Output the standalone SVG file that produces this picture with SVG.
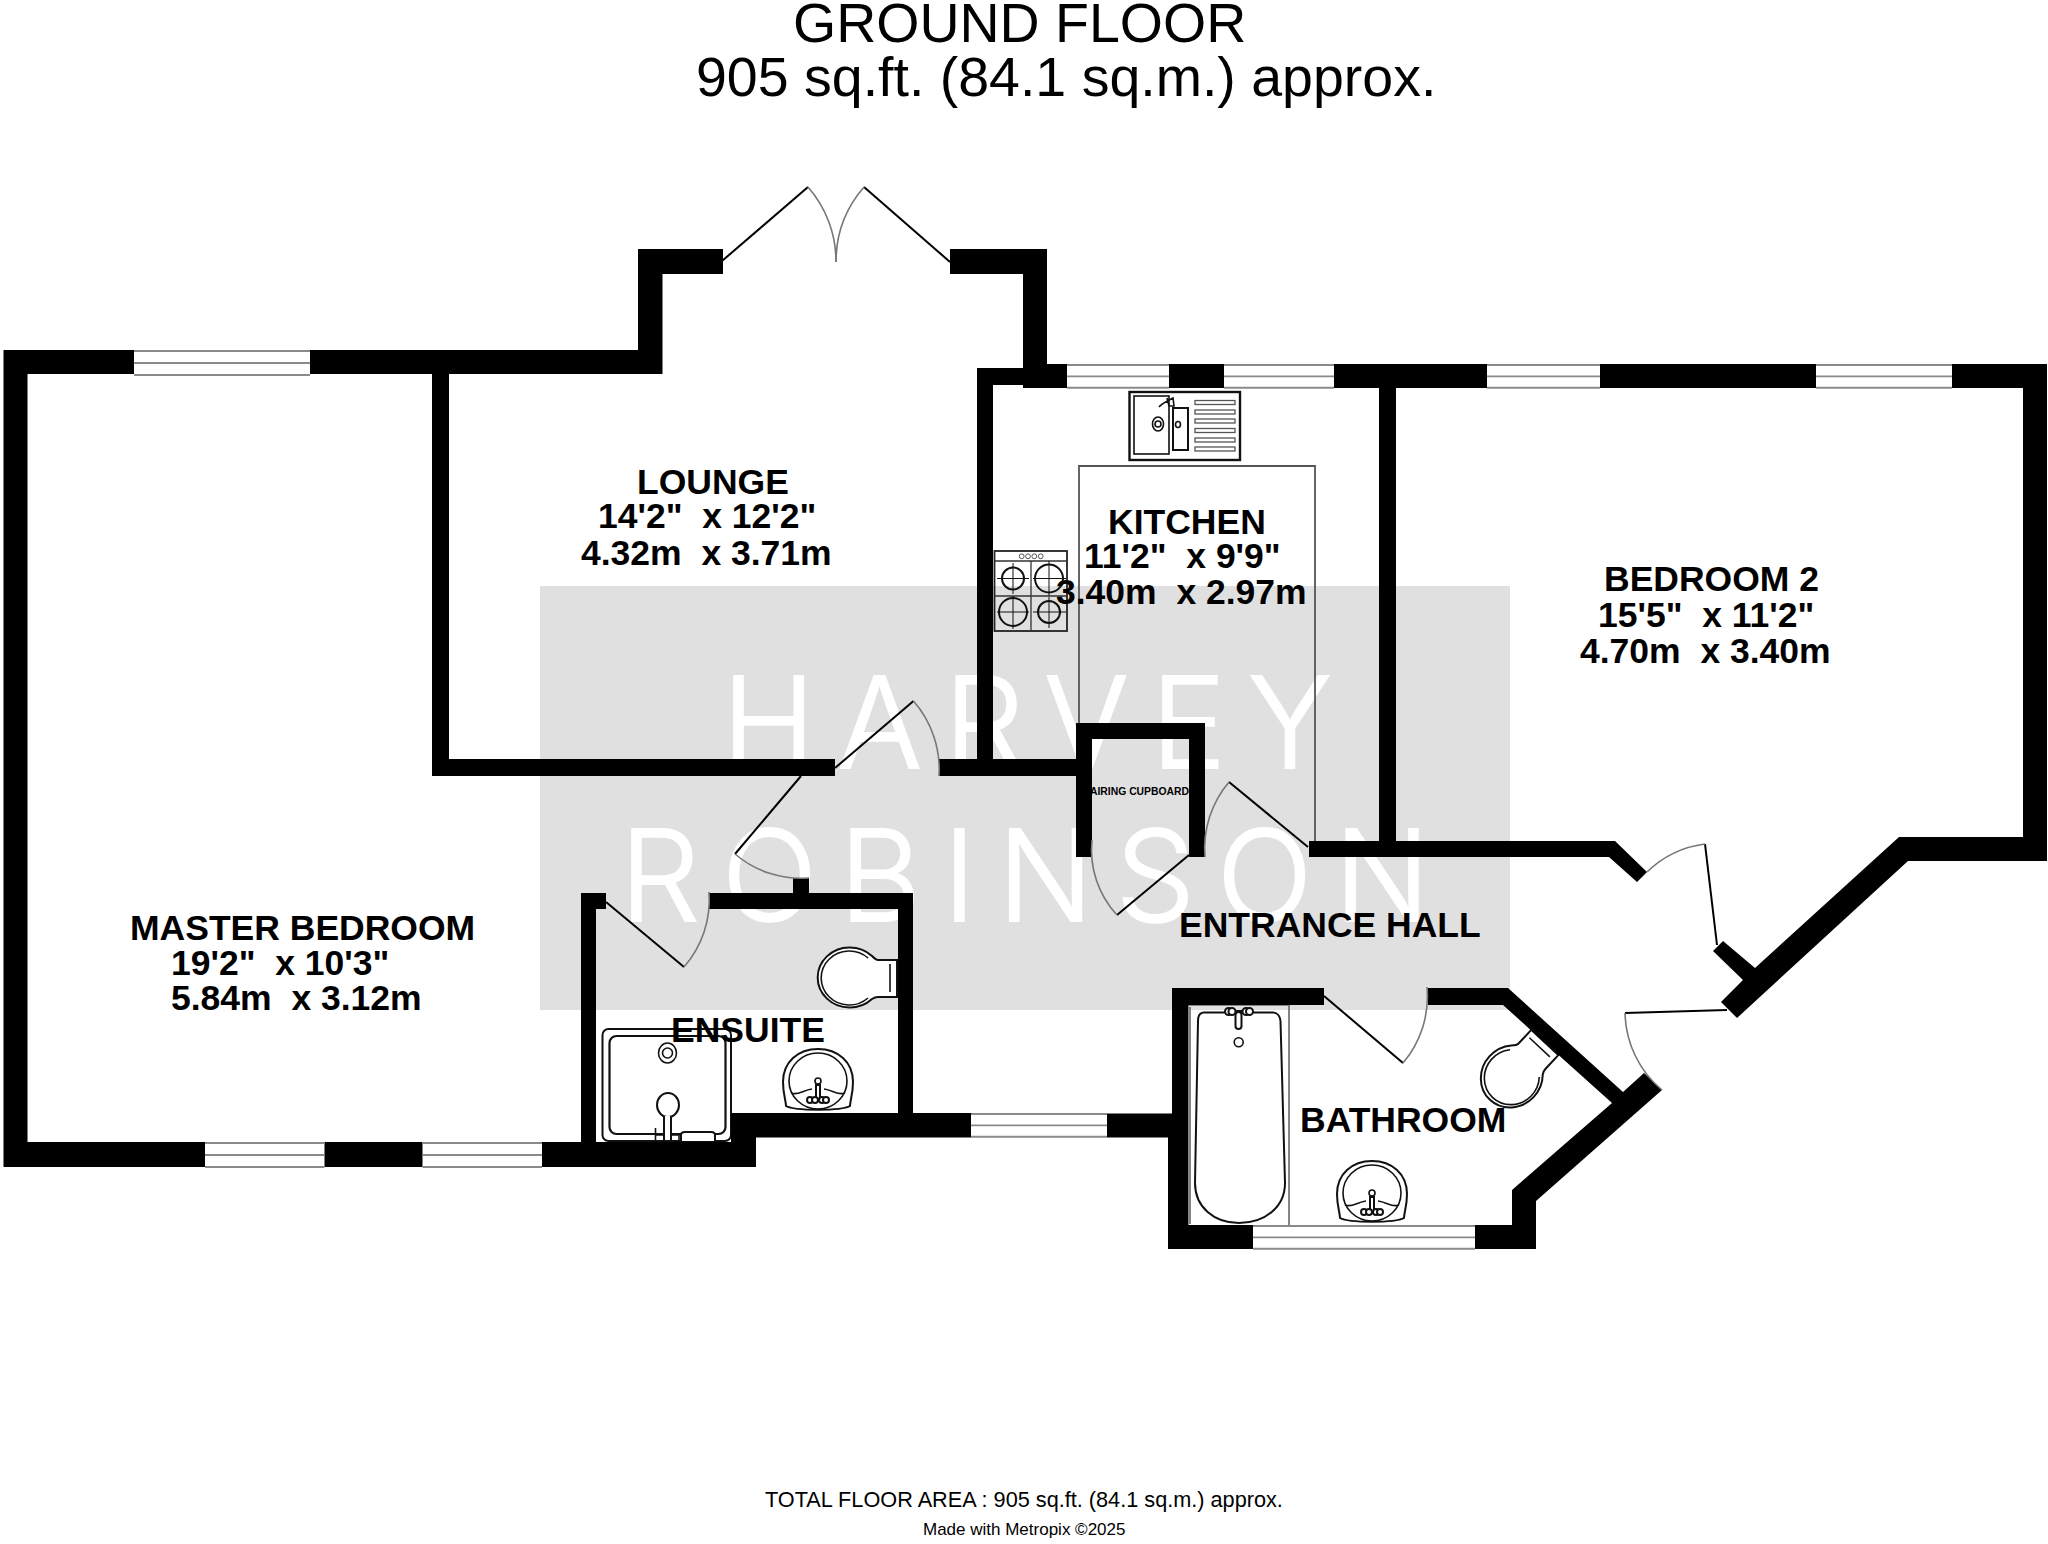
<svg xmlns="http://www.w3.org/2000/svg" width="2048" height="1544" viewBox="0 0 2048 1544">
<style>
.t{font-family:"Liberation Sans",Arial,sans-serif;fill:#000;white-space:pre}
.b{font-weight:700;font-size:35.5px}
.wm{font-family:Inter,Lato,"Open Sans",sans-serif;font-weight:300;font-size:126px;fill:#fff;stroke:#fff;stroke-width:1.800}
.w{fill:#000;stroke:none}
.win{fill:none;stroke:#8a8a8a;stroke-width:2}
.leaf{fill:none;stroke:#000;stroke-width:2}
.arc{fill:none;stroke:#777;stroke-width:1.6}
.fx{fill:#fff;stroke:#111;stroke-width:2}
.fn{fill:none;stroke:#111;stroke-width:1.6}
</style>
<defs>
<g id="win-h"><path class="win" d="M0 0H100M0 12H100M0 24H100"/></g>
<g id="basin">
<path class="fx" d="M3 57C3 52 0 45 0 33C0 13 15 0 35 0C55 0 70 13 70 33C70 45 67 52 67 57C58 62 12 62 3 57Z"/>
<ellipse class="fn" cx="35" cy="32" rx="29" ry="28" stroke-width="2"/>
<path class="fn" d="M8 44C15 47 20 41 29 40M41 40C50 41 55 47 62 44"/>
<circle class="fn" cx="35" cy="32" r="3"/>
<rect class="fx" x="33" y="36" width="4" height="16" stroke-width="1.6"/>
<circle class="fx" cx="27" cy="51" r="3" stroke-width="1.6"/><circle class="fx" cx="32" cy="51" r="3" stroke-width="1.6"/><circle class="fx" cx="39" cy="51" r="3" stroke-width="1.6"/><circle class="fx" cx="43" cy="51" r="3" stroke-width="1.6"/>
</g>
<g id="wc">
<path class="fx" d="M24 -22A32 30 0 1 0 24 21C27 19 28 19 30 19H49V-18H30C28 -18 27 -19 24 -22Z"/>
<path class="fn" d="M20 -20A28 27 0 1 0 20 20"/>
<path class="fn" d="M42 -14V14"/>
</g>
</defs>
<rect width="2048" height="1544" fill="#fff"/>
<g id="watermark">
<rect x="540" y="586" width="970" height="424" fill="#e0e0e0"/>
<text class="wm" x="722" y="768" textLength="610" lengthAdjust="spacing">HARVEY</text>
<text class="wm" x="620" y="921" textLength="810" lengthAdjust="spacing">ROBINSON</text>
</g>
<g id="fixtures">
<path d="M1079 723V466H1315V841" fill="none" stroke="#555" stroke-width="1.800"/>
<g id="sink">
<rect x="1129.500" y="392" width="110.500" height="68" fill="none" stroke="#111" stroke-width="2.400"/>
<rect x="1134" y="396" width="35" height="58" class="fn"/>
<rect x="1173" y="408" width="15" height="42" fill="none" stroke="#111" stroke-width="2"/>
<path class="fn" d="M1167 398 1169 406M1159 407C1162 403 1166 402 1173 398L1174 406H1169"/>
<ellipse class="fn" cx="1158" cy="424" rx="5.500" ry="7"/><circle class="fn" cx="1158" cy="424" r="3"/><ellipse class="fn" cx="1178" cy="424.500" rx="2.500" ry="3"/>
<g fill="none" stroke="#555" stroke-width="1.300"><rect x="1195" y="400.500" width="40" height="4"/><rect x="1195" y="410" width="40" height="4"/><rect x="1195" y="419" width="40" height="4"/><rect x="1195" y="428.500" width="40" height="4"/><rect x="1195" y="438" width="40" height="4"/><rect x="1195" y="447" width="40" height="4"/></g>
</g>
<g id="hob">
<rect x="994.500" y="551" width="72.500" height="80" fill="none" stroke="#222" stroke-width="1.800"/>
<path d="M994.500 561H1067M1031 561V631M994.500 596H1067" fill="none" stroke="#333" stroke-width="1.300"/>
<g fill="none" stroke="#555" stroke-width="1"><circle cx="1021.700" cy="556.300" r="2.400"/><circle cx="1028" cy="556.300" r="2.400"/><circle cx="1034.300" cy="556.300" r="2.400"/><circle cx="1040.700" cy="556.300" r="2.400"/></g>
<g fill="none" stroke="#111" stroke-width="2"><circle cx="1013" cy="578.500" r="11"/><circle cx="1049" cy="578.500" r="14"/><circle cx="1013" cy="612" r="14"/><circle cx="1049" cy="612" r="11"/></g>
<path d="M1013 563V594M997 578.500H1029M1049 561V596M1033 578.500H1066M1013 596V629M997 612H1029M1049 597V628M1033 612H1066" fill="none" stroke="#111" stroke-width="1"/>
</g>
<g id="shower">
<rect x="602.500" y="1029" width="128.500" height="112" rx="6" class="fx"/>
<rect x="609.500" y="1036" width="116" height="98" rx="7" fill="none" stroke="#111" stroke-width="2.200"/>
<ellipse class="fn" cx="667.500" cy="1053" rx="9" ry="10"/><circle class="fn" cx="667.500" cy="1053" r="5"/>
<ellipse class="fx" cx="668" cy="1105" rx="11" ry="12"/>
<path class="fx" d="M664 1116V1141H671V1116"/>
<path class="fn" d="M655.500 1128V1141M655.500 1135H664M671 1135H679V1141"/>
<path class="fx" d="M681 1141V1135C681 1133 683 1132 685 1132H711C713 1132 715 1133 715 1135V1141"/>
</g>
<use href="#wc" x="848" y="978"/>
<use href="#basin" x="783" y="1049"/>
<g id="bath">
<path d="M1188 1005H1289V1226H1188ZM1190 1007V1224" fill="none" stroke="#666" stroke-width="1.600"/>
<path class="fx" d="M1204 1012.500H1273C1277 1012.500 1280 1016 1280.500 1021L1285 1183C1285 1207 1265 1223 1239 1223C1214 1223 1195 1207 1195 1183L1198 1021C1198 1016 1200 1012.500 1204 1012.500Z"/>
<rect x="1235.500" y="1012" width="6" height="17" rx="3" class="fx"/>
<circle class="fn" cx="1238.700" cy="1042.300" r="4.500"/>
<path class="fx" d="M1228 1011H1252" stroke-width="2"/>
<circle class="fx" cx="1228.500" cy="1011.500" r="3.500"/><circle class="fx" cx="1232" cy="1011.500" r="3.500"/><circle class="fx" cx="1246" cy="1011.500" r="3.500"/><circle class="fx" cx="1249.500" cy="1011.500" r="3.500"/>
</g>
<use href="#basin" x="1337" y="1161"/>
<use href="#wc" transform="translate(1511 1078) rotate(-47)"/>
</g>
<g id="walls" class="w">
<path d="M3.500 350H134V374H27.500V1142H205V1167H3.500Z"/>
<path d="M310 350H638V249H723V274H662.500V374H449V759H835V776H432V374H310Z"/>
<path d="M950 249H1047V364H1067V388H1023V385H993V759H1076V723H1205V857H1189V739H1092V857H1076V776H939V759H977V368H1023V274H950Z"/>
<path d="M1169 364H1224V388H1169Z"/>
<path d="M1334 364H1487V388H1396V841H1615L1647 872L1637 882L1609 857H1309V841H1379V388H1334Z"/>
<path d="M1600 364H1816V388H1600Z"/>
<path d="M1952 364H2047V861H1908L1737 1018L1721 1002L1743 980L1713 951L1723 941L1755 968L1899 837H2023V388H1952Z"/>
<path d="M324.500 1142H422.500V1167H324.500Z"/>
<path d="M542 1142H581V893H606V909H596V1142H731V1113H898V909H709V893H913V1113H971V1137.500H756V1167H542Z"/>
<path d="M793 878H809V893H793Z"/>
<path d="M1107 1113.500H1172V988H1324V1005H1188V1225H1253V1249H1168V1137.500H1107Z"/>
<path d="M1428 988H1508L1623 1092L1644 1073L1662 1090L1536 1201V1249H1475V1225H1512V1190L1612 1103L1503 1005H1428Z"/>
</g>
<g id="windows">
<use href="#win-h" transform="translate(134 351) scale(1.760 1)"/>
<use href="#win-h" transform="translate(1067 365) scale(1.020 .95)"/>
<use href="#win-h" transform="translate(1224 365) scale(1.100 .95)"/>
<use href="#win-h" transform="translate(1487 365) scale(1.130 .95)"/>
<use href="#win-h" transform="translate(1816 365) scale(1.360 .95)"/>
<use href="#win-h" transform="translate(205 1143) scale(1.195 1)"/>
<use href="#win-h" transform="translate(422.500 1143) scale(1.195 1)"/>
<use href="#win-h" transform="translate(971 1114) scale(1.360 .95)"/>
<use href="#win-h" transform="translate(1253 1226) scale(2.220 .95)"/>
</g>
<g id="doors">
<path class="leaf" d="M722 261 808 187"/><path class="arc" d="M808 187A113 113 0 0 1 836 262"/>
<path class="leaf" d="M950 262 864 187"/><path class="arc" d="M864 187A114 114 0 0 0 836 262"/>
<path class="leaf" d="M835 768 913.500 701"/><path class="arc" d="M913.500 701A104 104 0 0 1 939 776"/>
<path class="leaf" d="M801 776 735 854"/><path class="arc" d="M735 854A102 102 0 0 0 809 878"/>
<path class="leaf" d="M606 902 684 967"/><path class="arc" d="M684 967A102 102 0 0 0 709 892"/>
<path class="leaf" d="M1189 855 1117 915"/><path class="arc" d="M1117 915A96 96 0 0 1 1092 840"/>
<path class="leaf" d="M1308 847 1229 782"/><path class="arc" d="M1229 782A103 103 0 0 0 1205 857"/>
<path class="leaf" d="M1324 996 1403 1063"/><path class="arc" d="M1403 1063A103 103 0 0 0 1427 987"/>
<path class="leaf" d="M1717 945 1705 844"/><path class="arc" d="M1705 844A102 102 0 0 0 1647 872"/>
<path class="leaf" d="M1727 1010 1625 1013"/><path class="arc" d="M1625 1013A103 103 0 0 0 1662 1090"/>
</g>
<g id="title">
<text class="t" x="793" y="42" font-size="55.500">GROUND FLOOR</text>
<text class="t" x="696" y="96" font-size="55.500">905 sq.ft. (84.1 sq.m.) approx.</text>
</g>
<g id="master-bedroom">
<text class="t b" x="130" y="940">MASTER BEDROOM</text>
<text class="t b" x="171" y="975">19'2"  x 10'3"</text>
<text class="t b" x="171" y="1010">5.84m  x 3.12m</text>
</g>
<g id="lounge">
<text class="t b" x="637" y="494">LOUNGE</text>
<text class="t b" x="598" y="528">14'2"  x 12'2"</text>
<text class="t b" x="581" y="565">4.32m  x 3.71m</text>
</g>
<g id="kitchen">
<text class="t b" x="1108" y="534">KITCHEN</text>
<text class="t b" x="1084" y="568">11'2"  x 9'9"</text>
<text class="t b" x="1056" y="604">3.40m  x 2.97m</text>
</g>
<g id="bedroom-2">
<text class="t b" x="1604" y="591">BEDROOM 2</text>
<text class="t b" x="1598" y="627">15'5"  x 11'2"</text>
<text class="t b" x="1580" y="663">4.70m  x 3.40m</text>
</g>
<g id="ensuite"><text class="t b" x="671" y="1042">ENSUITE</text></g>
<g id="entrance-hall"><text class="t b" x="1179" y="937">ENTRANCE HALL</text></g>
<g id="bathroom"><text class="t b" x="1300" y="1132">BATHROOM</text></g>
<g id="airing-cupboard"><text class="t" font-weight="700" font-size="11" x="1090" y="795" textLength="99" lengthAdjust="spacingAndGlyphs">AIRING CUPBOARD</text></g>
<g id="footer">
<text class="t" x="765" y="1507" font-size="21.700">TOTAL FLOOR AREA : 905 sq.ft. (84.1 sq.m.) approx.</text>
<text class="t" x="923" y="1535" font-size="17">Made with Metropix ©2025</text>
</g>
</svg>
